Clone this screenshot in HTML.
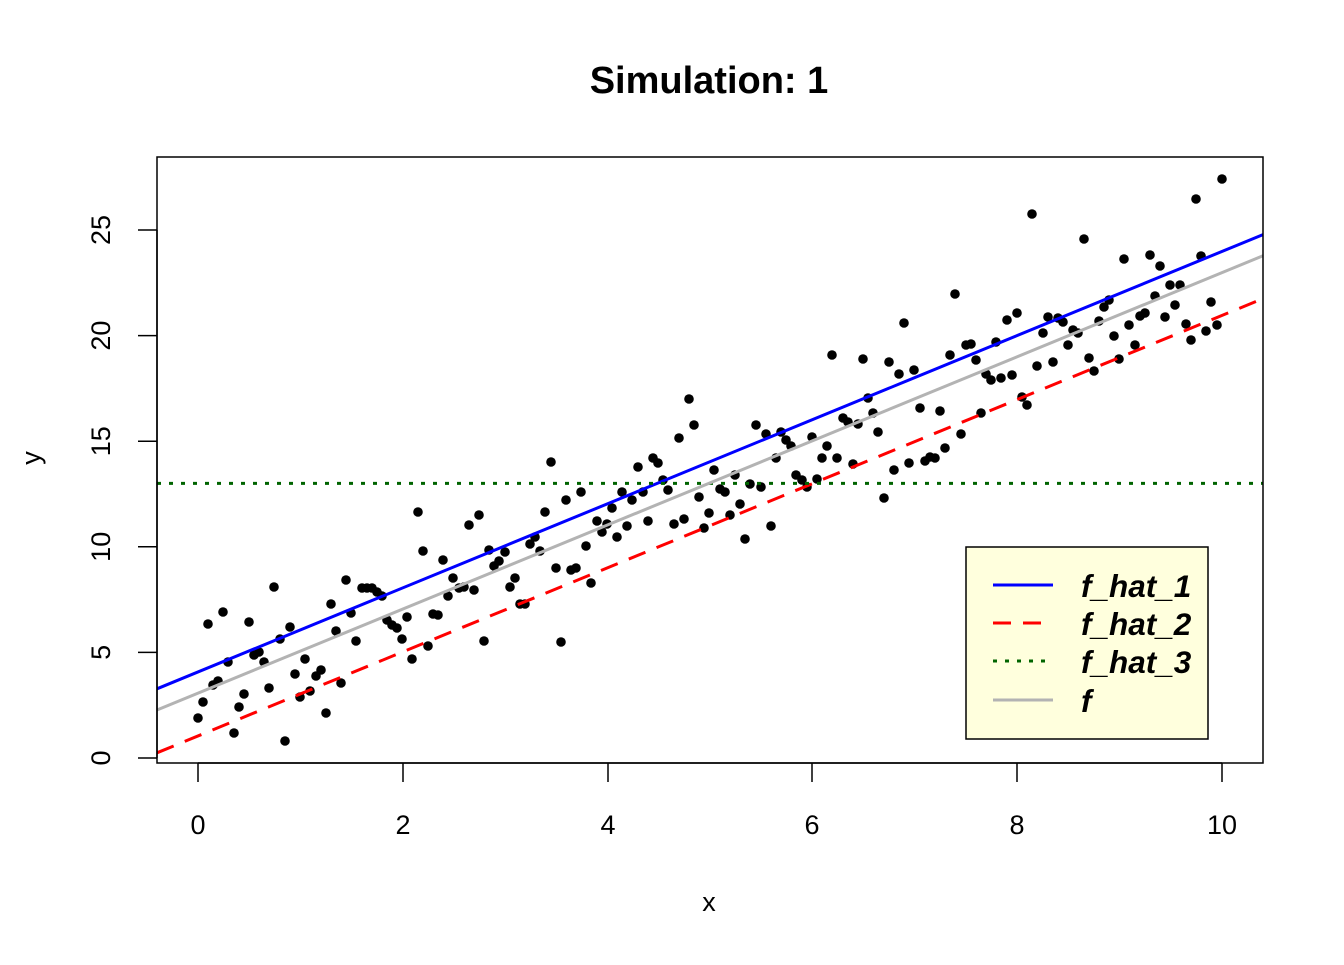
<!DOCTYPE html>
<html><head><meta charset="utf-8"><style>html,body{margin:0;padding:0;background:#fff}</style></head>
<body>
<svg id="s" width="1344" height="960" xmlns="http://www.w3.org/2000/svg" font-family="Liberation Sans, Arial, sans-serif">
<rect width="1344" height="960" fill="#fff"/>
<text x="709" y="93" font-size="38" font-weight="bold" text-anchor="middle">Simulation: 1</text>
<defs><clipPath id="c"><rect x="157" y="157" width="1106" height="606"/></clipPath></defs>
<g id="pts" fill="#000"></g>
<g clip-path="url(#c)" stroke-width="3" fill="none">
<line x1="157" y1="688.8" x2="1263" y2="234.6" stroke="#0000ff"/>
<line x1="157" y1="752.8" x2="1263" y2="298.6" stroke="#ff0000" stroke-dasharray="18,12"/>
<line x1="157" y1="483.4" x2="1263" y2="483.4" stroke="#006400" stroke-dasharray="4,8"/>
<line x1="157" y1="710" x2="1263" y2="255.8" stroke="#b3b3b3"/>
</g>
<rect x="157" y="157" width="1106" height="606" fill="none" stroke="#000" stroke-width="1.5"/>
<g stroke="#000" stroke-width="1.5">
<line x1="198" y1="763" x2="1222" y2="763"/>
<line x1="198" y1="763" x2="198" y2="782"/><line x1="403" y1="763" x2="403" y2="782"/><line x1="608" y1="763" x2="608" y2="782"/><line x1="812" y1="763" x2="812" y2="782"/><line x1="1017" y1="763" x2="1017" y2="782"/><line x1="1222" y1="763" x2="1222" y2="782"/>
<line x1="157" y1="758" x2="157" y2="230"/>
<line x1="157" y1="758" x2="138" y2="758"/><line x1="157" y1="652.4" x2="138" y2="652.4"/><line x1="157" y1="546.8" x2="138" y2="546.8"/><line x1="157" y1="441.2" x2="138" y2="441.2"/><line x1="157" y1="335.6" x2="138" y2="335.6"/><line x1="157" y1="230" x2="138" y2="230"/>
</g>
<g font-size="27" text-anchor="middle">
<text x="198" y="834">0</text><text x="403" y="834">2</text><text x="608" y="834">4</text><text x="812" y="834">6</text><text x="1017" y="834">8</text><text x="1222" y="834">10</text>
<text x="709" y="911">x</text>
<text transform="translate(110,758) rotate(-90)">0</text>
<text transform="translate(110,652.4) rotate(-90)">5</text>
<text transform="translate(110,546.8) rotate(-90)">10</text>
<text transform="translate(110,441.2) rotate(-90)">15</text>
<text transform="translate(110,335.6) rotate(-90)">20</text>
<text transform="translate(110,230) rotate(-90)">25</text>
<text transform="translate(40,458) rotate(-90)">y</text>
</g>
<rect x="966" y="547" width="242" height="192" fill="#ffffdd" stroke="#000" stroke-width="1.5"/>
<g stroke-width="3">
<line x1="993" y1="585" x2="1053" y2="585" stroke="#0000ff"/>
<line x1="993" y1="623" x2="1053" y2="623" stroke="#ff0000" stroke-dasharray="18,12"/>
<line x1="993" y1="661" x2="1053" y2="661" stroke="#006400" stroke-dasharray="4,8"/>
<line x1="993" y1="700" x2="1053" y2="700" stroke="#b3b3b3"/>
</g>
<g font-size="31.5" font-weight="bold" font-style="italic">
<text x="1081" y="597">f_hat_1</text><text x="1081" y="635">f_hat_2</text><text x="1081" y="673">f_hat_3</text><text x="1081" y="712">f</text>
</g>
</svg>
<script>
var p=[198,718,203,702,208,624,213,685,218,681,223,612,228,662,234,733,239,707,244,694,249,622,254,655,259,652,264,662,269,688,274,587,280,639,285,741,290,627,295,674,300,697,305,659,310,691,316,676,321,670,326,713,331,604,336,631,341,683,346,580,351,613,356,641,362,588,367,588,372,588,377,592,382,596,387,620,392,625,397,628,402,639,407,617,412,659,418,512,423,551,428,646,433,614,438,615,443,560,448,596,453,578,459,588,464,587,469,525,474,590,479,515,484,641,489,550,494,566,499,561,505,552,510,587,515,578,520,604,525,604,530,544,535,537,540,551,545,512,551,462,556,568,561,642,566,500,571,570,576,568,581,492,586,546,591,583,597,521,602,532,607,524,612,508,617,537,622,492,627,526,632,500,638,467,643,492,648,521,653,458,658,463,663,480,668,490,674,524,679,438,684,519,689,399,694,425,699,497,704,528,709,513,714,470,720,489,725,492,730,515,735,475,740,504,745,539,750,484,756,425,761,487,766,434,771,526,776,458,781,432,786,440,791,446,796,475,802,480,807,487,812,437,817,479,822,458,827,446,832,355,837,458,843,418,848,422,853,464,858,424,863,359,868,398,873,413,878,432,884,498,889,362,894,470,899,374,904,323,909,463,914,370,920,408,925,461,930,457,935,458,940,411,945,448,950,355,955,294,961,434,966,345,971,344,976,360,981,413,986,374,991,380,996,342,1001,378,1007,320,1012,375,1017,313,1022,397,1027,405,1032,214,1037,366,1043,333,1048,317,1053,362,1058,318,1063,322,1068,345,1073,330,1078,333,1084,239,1089,358,1094,371,1099,321,1104,307,1109,300,1114,336,1119,359,1124,259,1129,325,1135,345,1140,316,1145,313,1150,255,1155,296,1160,266,1165,317,1170,285,1175,305,1180,285,1186,324,1191,340,1196,199,1201,256,1206,331,1211,302,1217,325,1222,179];
var g=document.getElementById('pts'),h='';
for(var i=0;i<p.length;i+=2)h+='<circle cx="'+p[i]+'" cy="'+p[i+1]+'" r="4.8"/>';
g.innerHTML=h;
</script>
</body></html>
